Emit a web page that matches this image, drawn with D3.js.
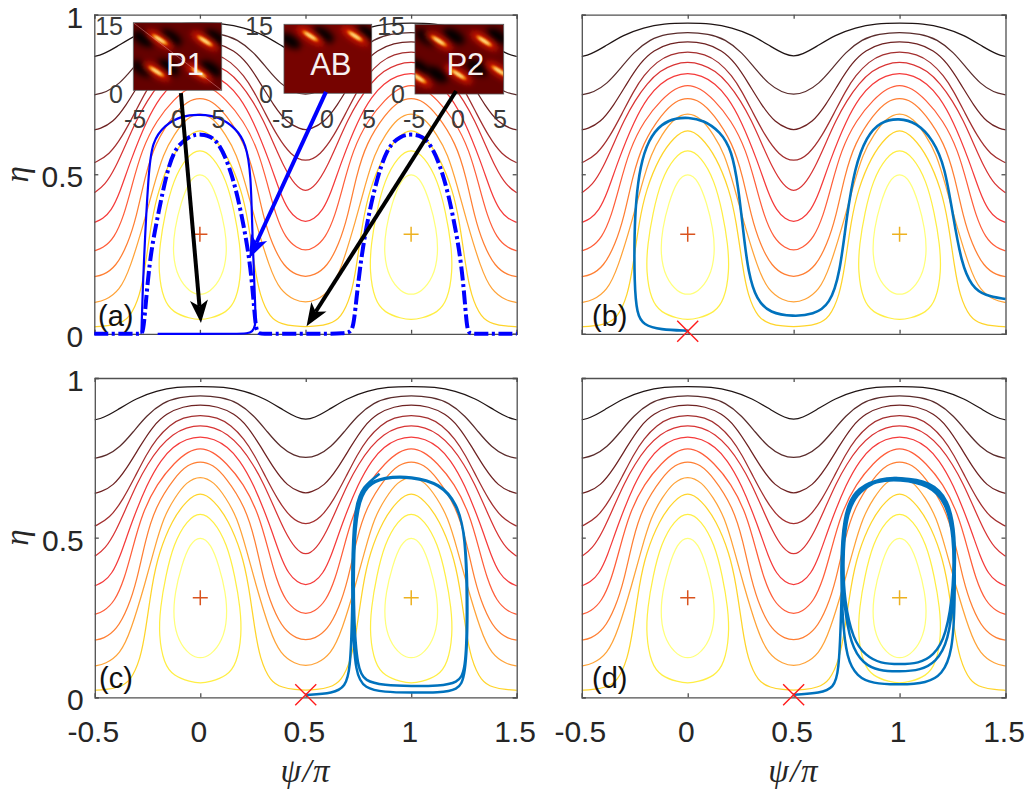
<!DOCTYPE html>
<html><head><meta charset="utf-8">
<script src="https://cdn.jsdelivr.net/npm/d3@7"></script>
<style>html,body{margin:0;padding:0;background:#fff}svg{display:block}</style>
</head><body><svg id="c" width="1026" height="789"></svg>
<script>
// half-period contours: [psi, eta] from psi=0 towards psi=0.5
const openContours = [
 [[0,.974],[.113,.972],[.208,.960],[.303,.937],[.397,.898],[.46,.875],[.5,.869]],
 [[0,.946],[.098,.940],[.177,.924],[.256,.882],[.319,.830],[.381,.783],[.445,.756],[.5,.749]],
 [[0,.917],[.082,.911],[.161,.889],[.224,.85],[.287,.785],[.35,.715],[.413,.661],[.476,.642],[.5,.639]],
 [[0,.885],[.082,.877],[.145,.853],[.208,.81],[.256,.76],[.31,.69],[.366,.62],[.429,.56],[.5,.536]],
 [[0,.853],[.066,.845],[.129,.825],[.192,.785],[.25,.73],[.3,.67],[.35,.595],[.4,.52],[.45,.465],[.5,.442]],
 [[0,.818],[.066,.809],[.129,.785],[.185,.745],[.252,.67],[.33,.54],[.38,.44],[.42,.385],[.46,.36],[.5,.349]],
 [[0,.782],[.058,.77],[.121,.736],[.205,.67],[.276,.576],[.323,.461],[.36,.37],[.405,.3],[.46,.268],[.5,.26]],
 [[0,.74],[.058,.73],[.121,.69],[.213,.597],[.26,.493],[.3,.367],[.342,.28],[.397,.21],[.46,.183],[.5,.179]],
 [[0,.695],[.066,.675],[.121,.625],[.173,.566],[.22,.46],[.26,.36],[.33,.205],[.38,.135],[.45,.104],[.5,.098]],
 [[0,.645],[.063,.618],[.134,.555],[.197,.451],[.228,.357],[.26,.205],[.283,.122],[.331,.049],[.39,.03],[.45,.024],[.5,.022]]
];
const closedContours = [
 [[0,.582],[.063,.555],[.126,.482],[.165,.378],[.19,.28],[.197,.195],[.173,.105],[.126,.066],[.047,.048],[0,.044]],
 [[0,.506],[.05,.482],[.09,.41],[.12,.33],[.13,.25],[.105,.175],[.047,.13],[0,.121]]
];
const contourColors = ['#1f1414','#5a2c2c','#6e2222','#a32f2f','#d93434','#f53b3b','#ff5e3a','#ff7f33','#ffa338','#ffd42a','#ffee44','#ffff7a'];
const xTicks = [-0.5,0,0.5,1,1.5];
const xTickLabels = ['-0.5','0','0.5','1','1.5'];
const yTicks = [0,0.5,1];
const yTickLabels = ['0','0.5','1'];
const centers = [[0,.312,'#d9531e'],[1,.312,'#edb120']];
const p1Solid = [[-.2,0],[0,0],[.17,0],[.225,.001],[.249,.006],[.262,.025],[.265,.054],[.248,.306],[.242,.503],[.218,.597],[.17,.644],[.092,.68],[0,.688],[-.083,.684],[-.169,.654],[-.226,.6],[-.243,.513],[-.268,.2],[-.277,0]];
const dashCurve = [[-.5,0],[-.3,0],[-.275,0],[-.266,.01],[-.24,.231],[-.2,.367],[-.155,.513],[-.114,.586],[-.05,.62],[0,.627],[.082,.617],[.153,.503],[.2,.368],[.242,.21],[.262,.03],[.272,0],[.3,0],[.5,0],[.7,0],[.725,.01],[.739,.096],[.769,.273],[.826,.46],[.886,.586],[.95,.62],[1,.627],[1.082,.617],[1.153,.503],[1.2,.368],[1.242,.21],[1.262,.03],[1.272,0],[1.3,0],[1.5,0]];
const trajB = [[0,.01],[-.13,.0125],[-.209,.028],[-.24,.06],[-.252,.159],[-.252,.315],[-.244,.42],[-.225,.524],[-.186,.608],[-.123,.66],[-.052,.676],[0,.678],[.074,.67],[.153,.634],[.208,.576],[.239,.461],[.263,.315],[.286,.19],[.325,.106],[.388,.065],[.498,.054],[.593,.06],[.671,.091],[.719,.19],[.75,.367],[.789,.524],[.844,.618],[.907,.665],[.998,.676],[1.08,.662],[1.159,.608],[1.214,.524],[1.253,.367],[1.292,.221],[1.34,.148],[1.403,.119],[1.5,.109]];
const trajC = [[.498,.007],[.632,.0125],[.687,.033],[.711,.086],[.72,.25],[.725,.46],[.745,.6],[.785,.668],[.87,.69],[1,.693],[1.137,.67],[1.216,.608],[1.258,.514],[1.266,.253],[1.258,.08],[1.22,.045],[1.13,.036],[1,.035],[.87,.038],[.78,.05],[.745,.09],[.727,.25],[.727,.46],[.745,.6],[.79,.665],[.87,.688],[1,.69],[1.137,.668],[1.216,.605],[1.26,.51],[1.27,.253],[1.258,.06],[1.22,.022],[1.13,.015],[1,.0146],[.87,.016],[.78,.028],[.735,.07],[.72,.25],[.72,.46],[.735,.6],[.77,.66],[.85,.70]];
const trajD = [[.5,.008],[.626,.0125],[.689,.031],[.713,.075],[.724,.253],[.729,.409],[.744,.566],[.8,.654],[.91,.686],[1,.689],[1.147,.67],[1.226,.618],[1.26,.514],[1.262,.305],[1.25,.14],[1.2,.07],[1.13,.045],[1,.039],[.87,.043],[.8,.065],[.75,.12],[.73,.25],[.722,.409],[.735,.566],[.785,.65],[.89,.683],[1,.69],[1.15,.675],[1.23,.62],[1.265,.514],[1.26,.33],[1.23,.17],[1.17,.11],[1.1,.085],[1,.08],[.9,.083],[.83,.105],[.77,.16],[.735,.3],[.728,.42],[.74,.57],[.79,.645],[.89,.678],[1,.683],[1.14,.665],[1.22,.61],[1.255,.51],[1.257,.35],[1.22,.19],[1.16,.13],[1.09,.106],[1,.103],[.91,.106],[.84,.13],[.78,.18],[.74,.3],[.732,.42],[.745,.56],[.795,.64],[.89,.675]];
const arrows = [[-.09,.754,.005,.0335,'#000'],[.597,.758,.234,.237,'#0000ff'],[1.213,.761,.505,.024,'#000']];
const insetNames = ['P1','AB','P2'];
const insetStreaks = [
 [[.30,.25],[.81,.27],[.26,.72],[.74,.74]],
 [[.30,.17],[.81,.17]],
 [[.27,.24],[.78,.24],[.49,.72],[.95,.67],[.04,.77]]
];
const insetDarks = [
 [[.11,.24],[.43,.22],[.93,.22],[.10,.68],[.40,.66],[.88,.68]],
 [[.45,.15],[.95,.13],[.07,.24]],
 [[.44,.17],[.93,.17],[.13,.19],[.05,.62],[.70,.62],[.25,.72]]
];
const insetTickLabels = [['15','0'],['-5','0','5']];

const svg = d3.select('#c');
const FONT = '"Liberation Sans",Arial,sans-serif', INK = '#262626';
const defs = svg.append('defs');
[['b3',3],['b1',.8]].forEach(([id,s])=>defs.append('filter').attr('id',id).attr('x','-60%').attr('y','-60%').attr('width','220%').attr('height','220%').append('feGaussianBlur').attr('stdDeviation',s));

const line = d3.line().curve(d3.curveBasis);
const closedLine = d3.line().curve(d3.curveBasisClosed);
const panels = [
 {id:'a',l:94.3,r:516.7,t:14.7,b:333.8,xl:false,yl:true,lab:[98,326]},
 {id:'b',l:581.8,r:1005.5,t:14.7,b:333.8,xl:false,yl:false,lab:[592,326]},
 {id:'c',l:94.8,r:516.7,t:378,b:697.3,xl:true,yl:true,lab:[99,688]},
 {id:'d',l:581.8,r:1005.5,t:378,b:697.3,xl:true,yl:false,lab:[592,688]}
];
panels.forEach(p=>{
 const x = d3.scaleLinear().domain([-.5,1.5]).range([p.l,p.r]);
 const y = d3.scaleLinear().domain([0,1]).range([p.b,p.t]);
 const g = svg.append('g');
 defs.append('clipPath').attr('id','clip'+p.id).append('rect').attr('x',p.l-1).attr('y',p.t-1).attr('width',p.r-p.l+2).attr('height',p.b-p.t+4);
 const cg = g.append('g').attr('clip-path',`url(#clip${p.id})`);
 const draw = (pts,col,w,par)=>(par||cg).append('path').attr('d',line(pts.map(d=>[x(d[0]),y(d[1])]))).attr('fill','none').attr('stroke',col).attr('stroke-width',w);
 openContours.forEach((h,i)=>{
   const rev = h.slice().reverse();
   const pts = [...rev.map(d=>[-d[0],d[1]]), ...h.slice(1), ...rev.slice(1).map(d=>[1-d[0],d[1]]), ...h.slice(1).map(d=>[1+d[0],d[1]])];
   draw(pts,contourColors[i],1.25);
 });
 closedContours.forEach((h,i)=>{
   [0,1].forEach(c=>{
     const rev = h.slice().reverse();
     const pts = [...h.map(d=>[c+d[0],d[1]]), ...rev.slice(1,-1).map(d=>[c-d[0],d[1]])];
     cg.append('path').attr('d',closedLine(pts.map(d=>[x(d[0]),y(d[1])]))).attr('fill','none').attr('stroke',contourColors[10+i]).attr('stroke-width',1.25);
   });
 });
 centers.forEach(c=>{
   const s=7.5;
   g.append('path').attr('d',`M${x(c[0])-s},${y(c[1])}H${x(c[0])+s}M${x(c[0])},${y(c[1])-s}V${y(c[1])+s}`).attr('stroke',c[2]).attr('stroke-width',1.5).attr('fill','none');
 });
 const axB = d3.axisBottom(x).tickValues(xTicks).tickSize(-4).tickFormat('');
 const axT = d3.axisTop(x).tickValues(xTicks).tickSize(-4).tickFormat('');
 const axL = d3.axisLeft(y).tickValues(yTicks).tickSize(-4).tickFormat('');
 const axR = d3.axisRight(y).tickValues(yTicks).tickSize(-4).tickFormat('');
 [[axB,0,p.b],[axT,0,p.t],[axL,p.l,0],[axR,p.r,0]].forEach(([a,tx,ty])=>{
   const ga = g.append('g').attr('transform',`translate(${tx},${ty})`).call(a);
   ga.selectAll('path,line').attr('stroke','#505050').attr('stroke-width',1.3);
 });
 const tg = g.append('g').attr('clip-path',`url(#clip${p.id})`);
 if(p.xl) xTicks.forEach((v,i)=>g.append('text').text(xTickLabels[i]).attr('x',x(v)-1.5).attr('y',p.b+45).attr('text-anchor','middle').attr('font-family',FONT).attr('font-size',30).attr('fill',INK));
 if(p.yl) yTicks.forEach((v,i)=>g.append('text').text(yTickLabels[i]).attr('x',p.l-11).attr('y',y(v)+13).attr('text-anchor','end').attr('font-family',FONT).attr('font-size',30).attr('fill',INK));
 if(p.xl) g.append('text').text('ψ/π').attr('x',x(.5)).attr('y',p.b+85).attr('text-anchor','middle').attr('font-family','"Liberation Serif",serif').attr('font-style','italic').attr('font-size',33).attr('letter-spacing',1.5).attr('fill',INK);
 if(p.yl) g.append('text').text('η').attr('transform',`translate(28,${y(.5)}) rotate(-90)`).attr('text-anchor','middle').attr('font-family','"Liberation Serif",serif').attr('font-style','italic').attr('font-size',33).attr('fill',INK);
 p.x=x;p.y=y;p.g=g;p.draw=(pts,col,w)=>draw(pts,col,w,tg);
});

const [A,B,C,D] = panels;
A.draw(p1Solid,'#0000ff',2.2);
A.draw(dashCurve,'#0000ff',4).attr('stroke-dasharray','14 3.5 3 3.5');
B.draw(trajB,'#0072bd',2.6);
C.draw(trajC,'#0072bd',2.5);
D.draw(trajD,'#0072bd',2.5);
[[B,0,.008],[C,.5,.008],[D,.5,.008]].forEach(([p,a,b])=>{
  const s=10.5,cx=p.x(a),cy=p.y(b);
  p.g.append('path').attr('d',`M${cx-s},${cy-s}L${cx+s},${cy+s}M${cx-s},${cy+s}L${cx+s},${cy-s}`).attr('stroke','#ff1a1a').attr('stroke-width',1.4).attr('fill','none');
});

const insetBoxes = [[133.3,22.7,88.4,67.6],[284,24.3,87.7,69],[415,24.3,88.7,69.7]];
insetBoxes.forEach((bx,k)=>{
  const gt = svg.append('g').attr('font-family',FONT).attr('font-size',25).attr('fill','#3a3a3a');
  const rx = [123,273,405][k];
  gt.append('text').text(insetTickLabels[0][0]).attr('x',rx).attr('y',35).attr('text-anchor','end');
  gt.append('text').text(insetTickLabels[0][1]).attr('x',rx).attr('y',103).attr('text-anchor','end');
  const tx = [[135,178,218.5],[283,327,369],[414,458,500]][k];
  insetTickLabels[1].forEach((t,i)=>gt.append('text').text(t).attr('x',tx[i]).attr('y',128).attr('text-anchor','middle'));
});
insetBoxes.forEach((bx,k)=>{
  const [X,Y,W,H]=bx;
  const id='ic'+k;
  defs.append('clipPath').attr('id',id).append('rect').attr('x',X).attr('y',Y).attr('width',W).attr('height',H);
  const g=svg.append('g');
  const ig=g.append('g').attr('clip-path',`url(#${id})`);
  ig.append('rect').attr('x',X).attr('y',Y).attr('width',W).attr('height',H).attr('fill',k==1?'#760300':'#640100');
  const place=(d)=>`translate(${X+d[0]*W},${Y+d[1]*H}) rotate(33)`;
  insetDarks[k].forEach(d=>ig.append('ellipse').attr('transform',place(d)).attr('rx',12).attr('ry',6).attr('fill','#000').attr('filter','url(#b3)'));
  insetStreaks[k].forEach(d=>{
    ig.append('ellipse').attr('transform',place(d)).attr('rx',16).attr('ry',5).attr('fill','#d81400').attr('filter','url(#b3)');
    ig.append('ellipse').attr('transform',place(d)).attr('rx',9.5).attr('ry',2.2).attr('fill','#ff9000').attr('filter','url(#b1)');
    ig.append('ellipse').attr('transform',place(d)).attr('rx',6.5).attr('ry',1.1).attr('fill','#fffcc0').attr('filter','url(#b1)');
  });
  if(k==0) ig.append('line').attr('x1',X).attr('y1',Y).attr('x2',X+W).attr('y2',Y+H).attr('stroke','#e09090').attr('stroke-width',.5);
  g.append('rect').attr('x',X).attr('y',Y).attr('width',W).attr('height',H).attr('fill','none').attr('stroke','#555').attr('stroke-width',.8);
  g.append('text').text(insetNames[k]).attr('x',X+W/2+[7.5,3,6][k]).attr('y',Y+[52.5,51,51][k]).attr('text-anchor','middle').attr('font-family',FONT).attr('font-size',31).attr('fill','#f6f0f0');
});
arrows.forEach(a=>{
  const x0=A.x(a[0]),y0=A.y(a[1]),x1=A.x(a[2]),y1=A.y(a[3]);
  const ang=Math.atan2(y1-y0,x1-x0),ux=Math.cos(ang),uy=Math.sin(ang),nx=-uy,ny=ux;
  const L=23,N=17,Wd=9;
  svg.append('line').attr('x1',x0).attr('y1',y0).attr('x2',x1-ux*N).attr('y2',y1-uy*N).attr('stroke',a[4]).attr('stroke-width',4);
  svg.append('polygon').attr('points',[[x1,y1],[x1-ux*L+nx*Wd,y1-uy*L+ny*Wd],[x1-ux*N,y1-uy*N],[x1-ux*L-nx*Wd,y1-uy*L-ny*Wd]].map(d=>d.join(',')).join(' ')).attr('fill',a[4]);
});
panels.forEach(p=>{
  svg.append('text').text(`(${p.id})`).attr('x',p.lab[0]).attr('y',p.lab[1]).attr('font-family',FONT).attr('font-size',29).attr('fill','#111');
});
</script></body></html>
